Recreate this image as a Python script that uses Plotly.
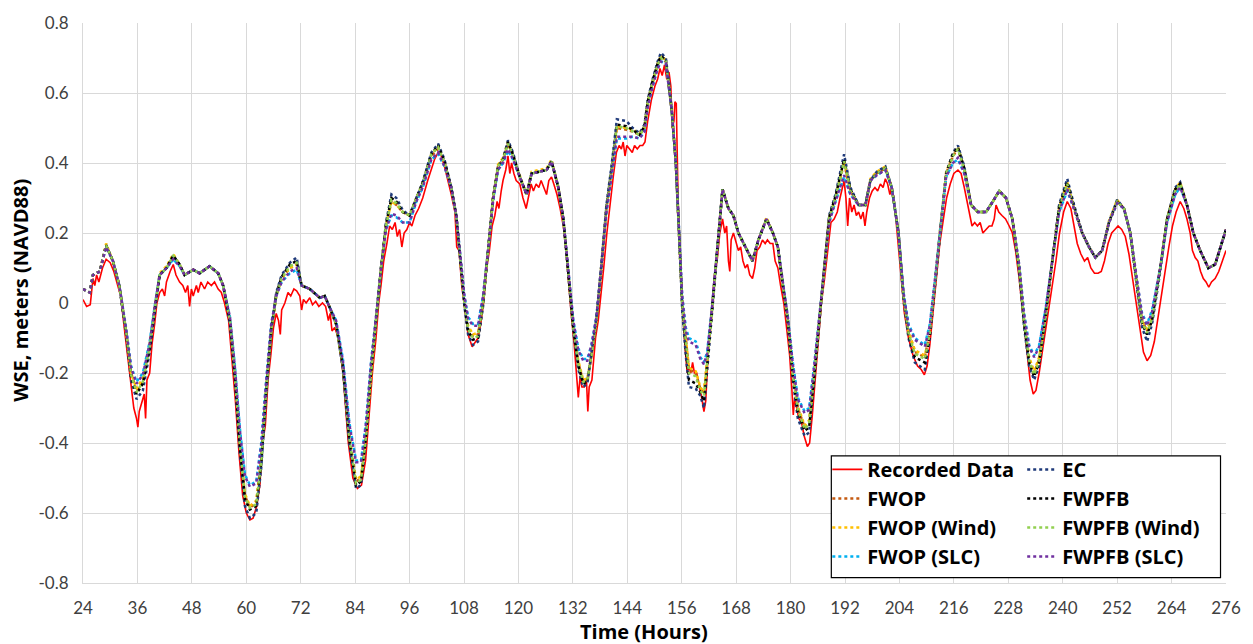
import plotly.graph_objects as go

# ---------------- data ----------------
model_hours = [
    24, 25.5, 26.2, 27.7, 29.1, 30.6, 32, 33.5, 34.6, 35.8,
    37.2, 38.7, 39.8, 40.9, 42.4, 43.9, 45.3, 46.4, 48.3, 49.7,
    51.9, 53.8, 54.9, 56.4, 57.5, 58.6, 59.7, 60.8, 62.2, 63.3,
    64.4, 65.5, 66.6, 67.8, 69.6, 71.1, 72.2, 74, 76.2, 77.3,
    78.3, 79.8, 81.3, 82.7, 84.2, 85.3, 86.4, 87.5, 88.6, 89.7,
    90.8, 92, 93.1, 94.5, 96, 97.5, 98.9, 100.8, 102.3, 103.7,
    105.2, 106.3, 107, 108.1, 108.9, 110, 111.1, 112.2, 113.3, 114.4,
    115.5, 116.6, 117.7, 118.8, 120.3, 121.8, 122.9, 124.7, 126.2, 127.3,
    128.8, 129.9, 131, 132.1, 133.2, 134.3, 135.2, 136.1, 137.2, 138.3,
    139.4, 140.6, 141.7, 143.8, 145.2, 146.7, 147.8, 148.5, 149.6, 150.7,
    151.4, 152.5, 153.2, 153.8, 154.7, 155.4, 156.1, 156.9, 157.6, 159.1,
    160.1, 160.9, 161.6, 162.7, 163.8, 165, 166.3, 167.4, 168.5, 170,
    171.6, 172.9, 174.7, 176.1, 177.2, 178.3, 179.4, 180.5, 181.6, 183.1,
    184.1, 185.2, 186.3, 187.4, 188.5, 189.9, 191.8, 193.2, 195, 196.5,
    197.6, 199, 200.9, 202.3, 203.8, 204.9, 206, 207.4, 209.6, 210.7,
    211.8, 212.9, 214.3, 215.8, 216.9, 218.3, 219.8, 221.3, 223.1, 224.6,
    226, 227.5, 228.9, 230.4, 231.5, 232.6, 233.7, 234.8, 236.3, 237.7,
    239.2, 241, 242.5, 244.3, 245.8, 247.2, 248.7, 250.2, 252, 253.5,
    254.9, 256.4, 257.5, 258.6, 259.7, 261.5, 263, 264.8, 265.9, 267.4,
    268.8, 270.3, 272.1, 273.6, 276,
]

fwop = [
    0.04, 0.03, 0.08, 0.09, 0.165, 0.12, 0.05, -0.08, -0.2, -0.25,
    -0.22, -0.12, -0.02, 0.08, 0.10, 0.135, 0.11, 0.08, 0.095, 0.085,
    0.105, 0.085, 0.05, -0.05, -0.2, -0.4, -0.55, -0.585, -0.57, -0.45,
    -0.25, -0.08, 0.02, 0.07, 0.10, 0.11, 0.05, 0.04, 0.015, 0.02,
    -0.01, -0.06, -0.18, -0.38, -0.51, -0.5, -0.38, -0.2, -0.05, 0.1,
    0.22, 0.29, 0.28, 0.26, 0.25, 0.3, 0.34, 0.42, 0.44, 0.40,
    0.33, 0.25, 0.15, 0.0, -0.07, -0.095, -0.09, 0.0, 0.15, 0.3,
    0.39, 0.41, 0.455, 0.42, 0.36, 0.31, 0.37, 0.375, 0.38, 0.405,
    0.33, 0.24, 0.09, -0.07, -0.17, -0.225, -0.22, -0.15, -0.05, 0.1,
    0.27, 0.38, 0.5, 0.495, 0.49, 0.48, 0.5, 0.57, 0.63, 0.68,
    0.70, 0.69, 0.62, 0.55, 0.40, 0.22, 0.0, -0.1, -0.19, -0.2,
    -0.245, -0.26, -0.17, -0.02, 0.15, 0.325, 0.27, 0.25, 0.2, 0.16,
    0.12, 0.18, 0.24, 0.2, 0.16, 0.05, -0.05, -0.2, -0.3, -0.355,
    -0.34, -0.2, -0.05, 0.1, 0.24, 0.3, 0.40, 0.32, 0.28, 0.28,
    0.35, 0.37, 0.385, 0.33, 0.2, 0.02, -0.08, -0.14, -0.155, -0.08,
    0.05, 0.2, 0.37, 0.42, 0.44, 0.38, 0.28, 0.26, 0.26, 0.29,
    0.32, 0.3, 0.24, 0.1, -0.05, -0.16, -0.2, -0.16, -0.03, 0.12,
    0.27, 0.34, 0.27, 0.2, 0.16, 0.13, 0.15, 0.23, 0.29, 0.27,
    0.2, 0.05, -0.05, -0.08, -0.04, 0.1, 0.24, 0.32, 0.34, 0.28,
    0.2, 0.15, 0.1, 0.11, 0.21,
]

fwop_wind = [
    0.04, 0.03, 0.08, 0.09, 0.17, 0.12, 0.05, -0.08, -0.2, -0.245,
    -0.215, -0.12, -0.02, 0.085, 0.105, 0.14, 0.11, 0.08, 0.095, 0.085,
    0.105, 0.085, 0.05, -0.05, -0.2, -0.4, -0.545, -0.58, -0.565, -0.445,
    -0.245, -0.08, 0.02, 0.07, 0.10, 0.11, 0.05, 0.04, 0.015, 0.02,
    -0.01, -0.06, -0.18, -0.38, -0.505, -0.495, -0.375, -0.2, -0.05, 0.1,
    0.22, 0.29, 0.28, 0.26, 0.25, 0.3, 0.34, 0.425, 0.445, 0.40,
    0.33, 0.25, 0.15, 0.0, -0.065, -0.09, -0.085, 0.0, 0.15, 0.3,
    0.395, 0.415, 0.46, 0.42, 0.36, 0.31, 0.375, 0.38, 0.385, 0.41,
    0.33, 0.24, 0.09, -0.07, -0.165, -0.22, -0.215, -0.15, -0.05, 0.1,
    0.27, 0.38, 0.505, 0.5, 0.495, 0.485, 0.505, 0.575, 0.635, 0.685,
    0.705, 0.695, 0.62, 0.55, 0.40, 0.22, 0.0, -0.1, -0.185, -0.195,
    -0.24, -0.255, -0.17, -0.02, 0.15, 0.325, 0.27, 0.25, 0.2, 0.16,
    0.12, 0.18, 0.245, 0.2, 0.16, 0.05, -0.05, -0.2, -0.295, -0.35,
    -0.335, -0.2, -0.05, 0.1, 0.24, 0.3, 0.405, 0.32, 0.28, 0.28,
    0.355, 0.375, 0.39, 0.33, 0.2, 0.02, -0.08, -0.135, -0.15, -0.08,
    0.05, 0.2, 0.375, 0.425, 0.445, 0.385, 0.28, 0.26, 0.26, 0.29,
    0.32, 0.3, 0.24, 0.1, -0.05, -0.155, -0.195, -0.155, -0.03, 0.12,
    0.27, 0.345, 0.27, 0.2, 0.16, 0.13, 0.15, 0.235, 0.295, 0.27,
    0.2, 0.05, -0.05, -0.075, -0.035, 0.1, 0.24, 0.325, 0.345, 0.28,
    0.2, 0.15, 0.1, 0.11, 0.21,
]

fwop_slc = [
    0.04, 0.03, 0.08, 0.09, 0.16, 0.12, 0.05, -0.07, -0.18, -0.225,
    -0.2, -0.11, -0.01, 0.08, 0.1, 0.125, 0.105, 0.08, 0.095, 0.085,
    0.105, 0.085, 0.05, -0.04, -0.18, -0.36, -0.49, -0.52, -0.51, -0.4,
    -0.22, -0.06, 0.02, 0.06, 0.085, 0.095, 0.05, 0.04, 0.015, 0.02,
    -0.01, -0.05, -0.16, -0.34, -0.45, -0.45, -0.34, -0.17, -0.04, 0.1,
    0.21, 0.25, 0.245, 0.23, 0.23, 0.29, 0.33, 0.41, 0.425, 0.39,
    0.33, 0.25, 0.16, 0.02, -0.04, -0.06, -0.06, 0.02, 0.15, 0.29,
    0.38, 0.40, 0.435, 0.41, 0.36, 0.31, 0.37, 0.375, 0.38, 0.405,
    0.33, 0.24, 0.1, -0.05, -0.13, -0.16, -0.16, -0.12, -0.04, 0.1,
    0.26, 0.37, 0.47, 0.47, 0.475, 0.47, 0.49, 0.56, 0.62, 0.67,
    0.69, 0.685, 0.62, 0.55, 0.40, 0.22, 0.02, -0.07, -0.1, -0.11,
    -0.155, -0.17, -0.14, -0.01, 0.15, 0.325, 0.27, 0.25, 0.2, 0.16,
    0.12, 0.18, 0.24, 0.2, 0.16, 0.06, -0.04, -0.17, -0.27, -0.31,
    -0.3, -0.18, -0.04, 0.1, 0.23, 0.29, 0.36, 0.31, 0.28, 0.28,
    0.35, 0.365, 0.38, 0.33, 0.2, 0.03, -0.06, -0.1, -0.12, -0.06,
    0.06, 0.2, 0.36, 0.4, 0.41, 0.37, 0.28, 0.26, 0.26, 0.29,
    0.32, 0.3, 0.24, 0.11, -0.03, -0.12, -0.15, -0.12, -0.01, 0.12,
    0.26, 0.32, 0.27, 0.2, 0.16, 0.13, 0.15, 0.23, 0.285, 0.27,
    0.2, 0.06, -0.03, -0.06, -0.02, 0.1, 0.23, 0.31, 0.33, 0.28,
    0.2, 0.15, 0.1, 0.11, 0.21,
]

ec = [
    0.04, 0.03, 0.08, 0.09, 0.165, 0.12, 0.05, -0.09, -0.22, -0.275,
    -0.25, -0.14, -0.03, 0.08, 0.10, 0.135, 0.11, 0.08, 0.095, 0.085,
    0.105, 0.085, 0.05, -0.06, -0.22, -0.43, -0.58, -0.615, -0.6, -0.47,
    -0.26, -0.08, 0.03, 0.08, 0.115, 0.13, 0.05, 0.04, 0.015, 0.02,
    -0.01, -0.06, -0.19, -0.4, -0.53, -0.52, -0.39, -0.2, -0.05, 0.1,
    0.23, 0.31, 0.30, 0.265, 0.25, 0.3, 0.345, 0.43, 0.455, 0.41,
    0.33, 0.25, 0.14, -0.01, -0.09, -0.12, -0.11, -0.01, 0.15, 0.3,
    0.39, 0.41, 0.465, 0.43, 0.36, 0.31, 0.37, 0.375, 0.38, 0.405,
    0.33, 0.24, 0.08, -0.08, -0.19, -0.24, -0.23, -0.15, -0.04, 0.11,
    0.28, 0.4, 0.525, 0.52, 0.5, 0.485, 0.51, 0.58, 0.64, 0.69,
    0.715, 0.70, 0.63, 0.55, 0.40, 0.21, -0.02, -0.15, -0.24, -0.245,
    -0.265, -0.3, -0.19, -0.03, 0.15, 0.325, 0.27, 0.25, 0.2, 0.16,
    0.12, 0.18, 0.24, 0.2, 0.16, 0.05, -0.06, -0.22, -0.33, -0.38,
    -0.37, -0.22, -0.06, 0.1, 0.25, 0.31, 0.425, 0.33, 0.28, 0.28,
    0.35, 0.375, 0.39, 0.33, 0.2, 0.01, -0.1, -0.17, -0.19, -0.1,
    0.04, 0.2, 0.37, 0.43, 0.45, 0.39, 0.28, 0.26, 0.26, 0.29,
    0.32, 0.3, 0.24, 0.09, -0.07, -0.18, -0.22, -0.18, -0.04, 0.12,
    0.28, 0.355, 0.28, 0.2, 0.16, 0.13, 0.15, 0.23, 0.295, 0.27,
    0.2, 0.04, -0.07, -0.11, -0.06, 0.09, 0.24, 0.33, 0.345, 0.28,
    0.2, 0.15, 0.1, 0.11, 0.21,
]

fwpfb = [
    0.04, 0.03, 0.08, 0.09, 0.165, 0.12, 0.05, -0.085, -0.21, -0.26,
    -0.23, -0.13, -0.02, 0.08, 0.10, 0.135, 0.11, 0.08, 0.095, 0.085,
    0.105, 0.085, 0.05, -0.05, -0.21, -0.41, -0.56, -0.59, -0.58, -0.46,
    -0.25, -0.08, 0.025, 0.075, 0.11, 0.12, 0.05, 0.04, 0.015, 0.02,
    -0.01, -0.06, -0.18, -0.39, -0.52, -0.51, -0.38, -0.2, -0.05, 0.1,
    0.225, 0.30, 0.29, 0.26, 0.25, 0.3, 0.345, 0.425, 0.45, 0.405,
    0.33, 0.25, 0.15, 0.0, -0.08, -0.105, -0.1, 0.0, 0.15, 0.3,
    0.39, 0.41, 0.46, 0.425, 0.36, 0.31, 0.37, 0.375, 0.38, 0.405,
    0.33, 0.24, 0.09, -0.07, -0.18, -0.23, -0.225, -0.15, -0.05, 0.1,
    0.275, 0.39, 0.51, 0.505, 0.495, 0.48, 0.505, 0.575, 0.635, 0.685,
    0.705, 0.695, 0.62, 0.55, 0.40, 0.22, 0.0, -0.13, -0.22, -0.23,
    -0.255, -0.28, -0.18, -0.02, 0.15, 0.325, 0.27, 0.25, 0.2, 0.16,
    0.12, 0.18, 0.24, 0.2, 0.16, 0.05, -0.05, -0.21, -0.31, -0.365,
    -0.355, -0.21, -0.05, 0.1, 0.245, 0.305, 0.41, 0.325, 0.28, 0.28,
    0.35, 0.37, 0.385, 0.33, 0.2, 0.02, -0.09, -0.155, -0.17, -0.09,
    0.05, 0.2, 0.37, 0.425, 0.445, 0.385, 0.28, 0.26, 0.26, 0.29,
    0.32, 0.3, 0.24, 0.1, -0.06, -0.17, -0.21, -0.17, -0.03, 0.12,
    0.275, 0.345, 0.275, 0.2, 0.16, 0.13, 0.15, 0.23, 0.29, 0.27,
    0.2, 0.05, -0.06, -0.09, -0.05, 0.1, 0.24, 0.325, 0.34, 0.28,
    0.2, 0.15, 0.1, 0.11, 0.21,
]

fwpfb_wind = [
    0.04, 0.03, 0.08, 0.09, 0.165, 0.12, 0.05, -0.08, -0.205, -0.255,
    -0.225, -0.125, -0.02, 0.08, 0.10, 0.135, 0.11, 0.08, 0.095, 0.085,
    0.105, 0.085, 0.05, -0.05, -0.205, -0.405, -0.555, -0.585, -0.575, -0.455,
    -0.25, -0.08, 0.02, 0.07, 0.105, 0.115, 0.05, 0.04, 0.015, 0.02,
    -0.01, -0.06, -0.18, -0.385, -0.515, -0.505, -0.38, -0.2, -0.05, 0.1,
    0.22, 0.295, 0.285, 0.26, 0.25, 0.3, 0.34, 0.425, 0.445, 0.40,
    0.33, 0.25, 0.15, 0.0, -0.075, -0.1, -0.095, 0.0, 0.15, 0.3,
    0.39, 0.41, 0.455, 0.42, 0.36, 0.31, 0.37, 0.375, 0.38, 0.405,
    0.33, 0.24, 0.09, -0.07, -0.175, -0.225, -0.22, -0.15, -0.05, 0.1,
    0.27, 0.385, 0.505, 0.5, 0.49, 0.48, 0.5, 0.57, 0.63, 0.68,
    0.70, 0.69, 0.62, 0.55, 0.40, 0.22, 0.0, -0.11, -0.2, -0.21,
    -0.25, -0.265, -0.175, -0.02, 0.15, 0.325, 0.27, 0.25, 0.2, 0.16,
    0.12, 0.18, 0.24, 0.2, 0.16, 0.05, -0.05, -0.205, -0.305, -0.36,
    -0.345, -0.205, -0.05, 0.1, 0.24, 0.3, 0.405, 0.32, 0.28, 0.28,
    0.35, 0.37, 0.385, 0.33, 0.2, 0.02, -0.085, -0.145, -0.16, -0.085,
    0.05, 0.2, 0.37, 0.42, 0.44, 0.38, 0.28, 0.26, 0.26, 0.29,
    0.32, 0.3, 0.24, 0.1, -0.055, -0.165, -0.205, -0.165, -0.03, 0.12,
    0.27, 0.34, 0.27, 0.2, 0.16, 0.13, 0.15, 0.23, 0.29, 0.27,
    0.2, 0.05, -0.055, -0.085, -0.045, 0.1, 0.24, 0.32, 0.34, 0.28,
    0.2, 0.15, 0.1, 0.11, 0.21,
]

fwpfb_slc = [
    0.04, 0.03, 0.08, 0.09, 0.16, 0.12, 0.05, -0.075, -0.185, -0.23,
    -0.205, -0.115, -0.01, 0.08, 0.1, 0.125, 0.105, 0.08, 0.095, 0.085,
    0.105, 0.085, 0.05, -0.04, -0.185, -0.365, -0.495, -0.525, -0.515, -0.405,
    -0.225, -0.06, 0.02, 0.06, 0.09, 0.1, 0.05, 0.04, 0.015, 0.02,
    -0.01, -0.05, -0.165, -0.345, -0.455, -0.455, -0.345, -0.17, -0.04, 0.1,
    0.21, 0.255, 0.25, 0.23, 0.23, 0.29, 0.33, 0.41, 0.43, 0.39,
    0.33, 0.25, 0.16, 0.02, -0.045, -0.065, -0.065, 0.02, 0.15, 0.29,
    0.38, 0.40, 0.44, 0.41, 0.36, 0.31, 0.37, 0.375, 0.38, 0.405,
    0.33, 0.24, 0.1, -0.05, -0.135, -0.165, -0.165, -0.12, -0.04, 0.1,
    0.26, 0.37, 0.475, 0.475, 0.475, 0.47, 0.49, 0.56, 0.62, 0.67,
    0.69, 0.685, 0.62, 0.55, 0.40, 0.22, 0.02, -0.08, -0.11, -0.12,
    -0.16, -0.175, -0.145, -0.01, 0.15, 0.325, 0.27, 0.25, 0.2, 0.16,
    0.12, 0.18, 0.24, 0.2, 0.16, 0.06, -0.04, -0.175, -0.275, -0.315,
    -0.305, -0.18, -0.04, 0.1, 0.23, 0.29, 0.365, 0.31, 0.28, 0.28,
    0.35, 0.365, 0.38, 0.33, 0.2, 0.03, -0.065, -0.105, -0.125, -0.065,
    0.06, 0.2, 0.36, 0.4, 0.415, 0.37, 0.28, 0.26, 0.26, 0.29,
    0.32, 0.3, 0.24, 0.11, -0.035, -0.125, -0.155, -0.125, -0.01, 0.12,
    0.26, 0.325, 0.27, 0.2, 0.16, 0.13, 0.15, 0.23, 0.285, 0.27,
    0.2, 0.06, -0.035, -0.065, -0.025, 0.1, 0.23, 0.31, 0.33, 0.28,
    0.2, 0.15, 0.1, 0.11, 0.21,
]

recorded_hours = [
    24, 24.8, 25.6, 26.2, 26.6, 27, 27.5, 28.3, 29.1, 30,
    30.8, 31.5, 32.3, 33, 33.8, 34.6, 35.2, 35.8, 36.1, 36.4,
    37, 37.5, 37.8, 38.1, 38.7, 39.2, 39.8, 40.3, 40.9, 41.5,
    42, 42.4, 43.2, 43.9, 44.5, 45.3, 46, 46.6, 47.1, 47.5,
    47.9, 48.3, 49, 49.4, 50, 50.8, 51.5, 52.3, 53, 53.8,
    54.5, 55.2, 56.1, 56.8, 57.6, 58.4, 59.2, 60, 60.8, 61.5,
    62.3, 63, 63.6, 64.2, 64.8, 65.4, 66, 66.6, 67.1, 67.5,
    67.8, 68.5, 69.2, 69.8, 70.5, 71.1, 71.8, 72.2, 72.6, 73.2,
    74, 74.6, 75.3, 76, 76.8, 77.5, 78.1, 78.5, 78.9, 79.5,
    80.3, 81.3, 82.5, 83.5, 84.5, 85.4, 86.3, 87.2, 87.8, 88.6,
    89.2, 89.7, 90.3, 91, 91.6, 92.2, 92.8, 93.3, 93.8, 94.3,
    94.8, 95.4, 96, 96.5, 97.2, 98, 98.9, 100, 100.8, 101.5,
    102.3, 103, 103.7, 104.5, 105.2, 106, 106.4, 106.9, 107.5, 108.1,
    108.9, 109.8, 110.5, 111.1, 111.7, 112.3, 113, 113.6, 114.2, 114.8,
    115.3, 115.7, 116.2, 116.6, 117.2, 117.7, 118.1, 118.5, 119, 119.5,
    120.3, 121, 121.7, 122.2, 122.8, 123.3, 123.9, 124.5, 125, 125.6,
    126.2, 126.7, 127.3, 127.8, 128.5, 129.2, 129.9, 130.5, 131.1, 131.7,
    132.3, 132.8, 133.2, 133.6, 134, 134.5, 135, 135.3, 135.6, 136.2,
    137, 137.6, 138.2, 138.8, 139.5, 140.2, 140.9, 141.6, 142.2, 142.7,
    143.1, 143.5, 143.9, 144.5, 145.1, 145.6, 146.2, 146.8, 147.4, 147.9,
    148.5, 149.3, 150.1, 150.7, 151.2, 151.7, 152.2, 152.7, 153.2, 153.6,
    153.9, 154.3, 154.5, 154.8, 155.2, 155.6, 156.1, 156.7, 157.2, 157.6,
    158, 158.4, 158.8, 159.3, 159.8, 160.4, 160.9, 161.3, 161.8, 162.5,
    163.2, 163.8, 164.4, 165, 165.5, 165.9, 166.3, 166.6, 166.9, 167.4,
    168, 168.5, 169, 169.5, 170, 170.5, 171, 171.6, 172.1, 172.6,
    173.2, 173.8, 174.4, 174.9, 175.5, 176.1, 176.6, 177.2, 177.8, 178.5,
    179.2, 179.8, 180.3, 180.6, 180.9, 181.3, 181.8, 182.4, 183, 183.7,
    184.2, 184.8, 185.4, 186.1, 186.8, 187.5, 188.3, 188.9, 189.6, 190.3,
    190.9, 191.4, 191.8, 192.2, 192.6, 193, 193.5, 194, 194.5, 195,
    195.5, 196, 196.4, 196.8, 197.4, 198, 198.6, 199.2, 199.8, 200.4,
    200.9, 201.4, 201.9, 202.3, 202.8, 203.5, 204.3, 205.1, 206, 207,
    208, 208.8, 209.5, 210.1, 210.7, 211.4, 212.1, 212.9, 213.7, 214.4,
    215.2, 216, 216.9, 217.6, 218.3, 219, 219.5, 220, 220.6, 221.2,
    221.8, 222.4, 223.1, 223.8, 224.4, 224.9, 225.3, 225.9, 226.6, 227.4,
    228.2, 228.9, 229.6, 230.4, 231.2, 232, 232.8, 233.5, 234.1, 234.8,
    235.5, 236.3, 237, 237.7, 238.5, 239.3, 240.2, 241, 241.8, 242.5,
    243.2, 244, 244.8, 245.5, 246.2, 247, 247.8, 248.5, 249.2, 250,
    250.8, 251.5, 252.2, 253, 253.8, 254.6, 255.4, 256.2, 257, 257.8,
    258.6, 259.4, 260.2, 261, 261.8, 262.6, 263.4, 264.2, 265, 265.9,
    266.7, 267.4, 268.1, 268.6, 269.2, 269.8, 270.4, 271, 271.6, 272.2,
    272.8, 273.6, 274.4, 275.2, 276,
]

recorded_wse = [
    0.01, -0.01, -0.005, 0.07, 0.05, 0.08, 0.06, 0.1, 0.125, 0.115,
    0.09, 0.06, 0.02, -0.06, -0.15, -0.25, -0.3, -0.33, -0.355, -0.31,
    -0.28, -0.26, -0.33, -0.22, -0.2, -0.12, -0.06, 0.0, 0.03, 0.04,
    0.02, 0.06, 0.09, 0.11, 0.08, 0.06, 0.05, 0.03, 0.05, -0.01,
    0.04, 0.02, 0.05, 0.03, 0.06, 0.04, 0.06, 0.05, 0.06, 0.04,
    0.03, 0.0, -0.05, -0.15, -0.28, -0.43, -0.55, -0.6, -0.62, -0.615,
    -0.58, -0.52, -0.4, -0.35, -0.22, -0.15, -0.07, -0.03, -0.05, -0.09,
    -0.02, 0.0, 0.03, 0.02, 0.04, 0.035, 0.02, -0.02, 0.01, 0.0,
    0.015, -0.005, 0.005, -0.01, 0.0, -0.01, -0.05, -0.03, -0.08, -0.07,
    -0.1, -0.2, -0.4, -0.5, -0.53, -0.52, -0.45, -0.3, -0.2, -0.1,
    0.0, 0.05, 0.12, 0.17, 0.22, 0.21, 0.23, 0.19, 0.21, 0.16,
    0.2, 0.21, 0.23, 0.22, 0.25, 0.27, 0.3, 0.35, 0.38, 0.41,
    0.43, 0.42, 0.39, 0.35, 0.31, 0.26, 0.16, 0.15, 0.05, -0.01,
    -0.09, -0.125, -0.11, -0.1, -0.06, 0.0, 0.1, 0.15, 0.22, 0.25,
    0.29, 0.27, 0.32, 0.35, 0.38, 0.42, 0.37, 0.4, 0.37, 0.35,
    0.34, 0.3, 0.27, 0.3, 0.34, 0.32, 0.34, 0.33, 0.35, 0.33,
    0.31, 0.35, 0.36, 0.34, 0.31, 0.27, 0.22, 0.15, 0.05, -0.04,
    -0.12, -0.2, -0.27, -0.21, -0.24, -0.24, -0.22, -0.31, -0.24, -0.22,
    -0.1, -0.05, 0.02, 0.1, 0.2, 0.29, 0.36, 0.43, 0.45, 0.44,
    0.46, 0.42, 0.45, 0.44, 0.43, 0.45, 0.44, 0.45, 0.45, 0.46,
    0.52, 0.58, 0.62, 0.64, 0.67, 0.65, 0.68, 0.64, 0.66, 0.62,
    0.5, 0.52, 0.575, 0.57, 0.3, 0.15, 0.0, -0.12, -0.2, -0.18,
    -0.2, -0.17, -0.2, -0.2, -0.23, -0.27, -0.31, -0.28, -0.15, -0.02,
    0.08, 0.12, 0.2, 0.24, 0.2, 0.22, 0.12, 0.09, 0.18, 0.2,
    0.17, 0.15, 0.16, 0.12, 0.1, 0.11, 0.08, 0.07, 0.1, 0.15,
    0.16, 0.18, 0.17, 0.18, 0.17, 0.17, 0.12, 0.1, 0.05, 0.0,
    -0.08, -0.15, -0.25, -0.32, -0.27, -0.3, -0.33, -0.34, -0.38, -0.41,
    -0.4, -0.32, -0.22, -0.1, 0.0, 0.07, 0.16, 0.23, 0.24, 0.26,
    0.3, 0.33, 0.35, 0.3, 0.22, 0.3, 0.26, 0.28, 0.25, 0.26,
    0.24, 0.26, 0.22, 0.26, 0.3, 0.32, 0.33, 0.32, 0.34, 0.33,
    0.355, 0.34, 0.31, 0.33, 0.3, 0.2, 0.08, -0.03, -0.1, -0.15,
    -0.18, -0.19, -0.205, -0.18, -0.12, -0.03, 0.06, 0.17, 0.24, 0.3,
    0.34, 0.37, 0.38, 0.37, 0.33, 0.28, 0.25, 0.22, 0.23, 0.22,
    0.23, 0.2, 0.21, 0.22, 0.22, 0.24, 0.28, 0.26, 0.25, 0.24,
    0.22, 0.2, 0.15, 0.07, -0.03, -0.13, -0.22, -0.26, -0.25, -0.2,
    -0.14, -0.08, -0.01, 0.05, 0.12, 0.2, 0.26, 0.29, 0.27, 0.22,
    0.17, 0.14, 0.12, 0.13, 0.1, 0.085, 0.085, 0.09, 0.12, 0.17,
    0.2, 0.21, 0.22, 0.21, 0.19, 0.14, 0.07, -0.01, -0.08, -0.14,
    -0.165, -0.15, -0.11, -0.04, 0.02, 0.1, 0.16, 0.22, 0.26, 0.29,
    0.27, 0.24, 0.2, 0.15, 0.13, 0.12, 0.09, 0.07, 0.06, 0.045,
    0.06, 0.07, 0.09, 0.12, 0.15,
]

x_ticks = [24, 36, 48, 60, 72, 84, 96, 108, 120, 132, 144, 156, 168, 180,
           192, 204, 216, 228, 240, 252, 264, 276]
y_ticks = [-0.8, -0.6, -0.4, -0.2, 0, 0.2, 0.4, 0.6, 0.8]
y_tick_text = ["-0.8", "-0.6", "-0.4", "-0.2", "0", "0.2", "0.4", "0.6", "0.8"]

# ---------------- figure ----------------
TICK_FONT = "Lato"
BOLD_FONT = "Open Sans"
fig = go.Figure()

fig.add_trace(go.Scatter(x=recorded_hours, y=recorded_wse, name="Recorded Data",
                         mode="lines", line=dict(color="#ff0000", width=1.6),
                         legend="legend"))

models = [
    ("FWOP", fwop, "#c55a11", "legend"),
    ("FWOP (Wind)", fwop_wind, "#ffc000", "legend"),
    ("FWOP (SLC)", fwop_slc, "#00b0f0", "legend"),
    ("EC", ec, "#1f3a7a", "legend2"),
    ("FWPFB", fwpfb, "#000000", "legend2"),
    ("FWPFB (Wind)", fwpfb_wind, "#92d050", "legend2"),
    ("FWPFB (SLC)", fwpfb_slc, "#7030a0", "legend2"),
]
for name, vals, color, leg in models:
    fig.add_trace(go.Scatter(x=model_hours, y=vals, name=name, mode="lines",
                             line=dict(color=color, width=2.5, dash="dot"),
                             legend=leg))

leg_font = dict(family=BOLD_FONT, size=20, color="#000000", weight="bold")
fig.update_layout(
    width=1253, height=644,
    margin=dict(l=83, r=26, t=15, b=61),
    paper_bgcolor="white", plot_bgcolor="white",
    showlegend=True,
    legend=dict(x=0.6512, y=0.2377, xanchor="left", yanchor="top",
                bgcolor="rgba(0,0,0,0)", borderwidth=0, font=leg_font,
                itemwidth=30, tracegroupgap=0),
    legend2=dict(x=0.8217, y=0.2377, xanchor="left", yanchor="top",
                 bgcolor="rgba(0,0,0,0)", borderwidth=0, font=leg_font,
                 itemwidth=30, tracegroupgap=0),
    xaxis=dict(range=[24, 276], tickvals=x_ticks, showgrid=True,
               gridcolor="#d9d9d9", gridwidth=1, zeroline=False,
               showline=True, linecolor="#d9d9d9", linewidth=1,
               ticks="", ticklabelstandoff=10,
               tickfont=dict(family=TICK_FONT, size=17, color="#404040")),
    yaxis=dict(range=[-0.8, 0.8], tickvals=y_ticks, ticktext=y_tick_text,
               showgrid=True, gridcolor="#d9d9d9", gridwidth=1, zeroline=False,
               showline=True, linecolor="#d9d9d9", linewidth=1,
               ticks="", ticklabelstandoff=10,
               tickfont=dict(family=TICK_FONT, size=17, color="#404040")),
    annotations=[
        dict(text="Time (Hours)", xref="paper", yref="paper",
             x=0.4904, y=-0.0863, xanchor="center", yanchor="middle",
             showarrow=False,
             font=dict(family=BOLD_FONT, size=20, color="#000000", weight="bold")),
        dict(text="WSE, meters (NAVD88)", xref="paper", yref="paper",
             x=-0.0542, y=0.522, xanchor="center", yanchor="middle",
             textangle=-90, showarrow=False,
             font=dict(family=BOLD_FONT, size=20, color="#000000", weight="bold")),
    ],
    shapes=[dict(type="rect", xref="paper", yref="paper",
                 x0=0.6547, x1=0.9952, y0=0.0097, y1=0.2271,
                 fillcolor="white", line=dict(color="#000000", width=1.2),
                 layer="above")],
)

fig.write_html("out.html")
